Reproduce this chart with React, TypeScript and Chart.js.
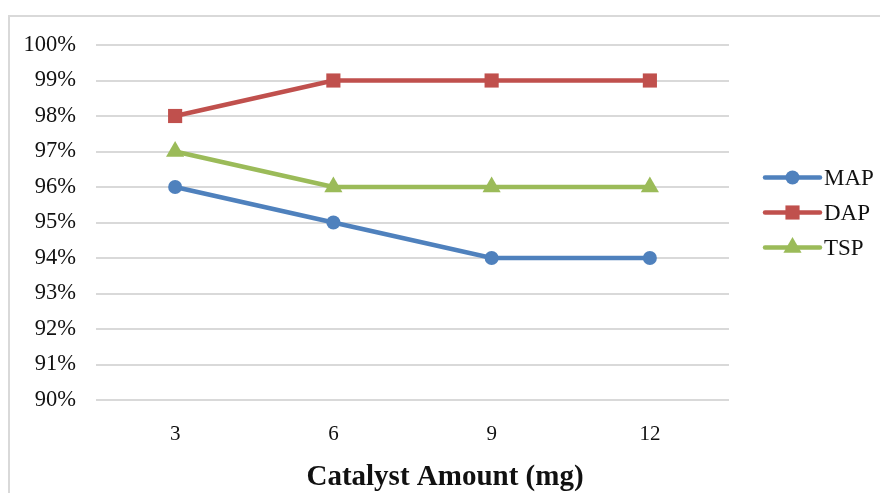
import React, { useEffect, useRef } from "react";
import { Chart, registerables } from "chart.js";

Chart.register(...registerables);

const categories = ["3", "6", "9", "12"];
const mapValues = [96, 95, 94, 94];
const dapValues = [98, 99, 99, 99];
const tspValues = [97, 96, 96, 96];
const seriesNames = ["MAP", "DAP", "TSP"];
const xTitle = "Catalyst Amount (mg)";

const FONT = "'Liberation Serif', 'Times New Roman', serif";

function drawMarker(ctx: CanvasRenderingContext2D, style: string, x: number, y: number, r: number, color: string) {
  ctx.save();
  ctx.fillStyle = color;
  ctx.beginPath();
  if (style === "circle") {
    ctx.arc(x, y, r, 0, Math.PI * 2);
  } else if (style === "rect") {
    const s = Math.SQRT1_2 * r;
    ctx.rect(x - s, y - s, 2 * s, 2 * s);
  } else if (style === "triangle") {
    const sx = r * Math.sin(Math.PI / 3);
    const sy = r * Math.cos(Math.PI / 3);
    ctx.moveTo(x, y - r);
    ctx.lineTo(x + sx, y + sy);
    ctx.lineTo(x - sx, y + sy);
    ctx.closePath();
  }
  ctx.fill();
  ctx.restore();
}

const legendPlugin = {
  id: "lineLegend",
  afterDraw(chart: any) {
    const { ctx, chartArea } = chart;
    const x0 = chartArea.right + 36;
    const x1 = chartArea.right + 91;
    const yc = (chartArea.top + chartArea.bottom) / 2 - 10;
    const gap = 35;
    chart.data.datasets.forEach((ds: any, i: number) => {
      const y = yc + (i - 1) * gap;
      ctx.save();
      ctx.strokeStyle = ds.borderColor;
      ctx.lineWidth = ds.borderWidth;
      ctx.lineCap = "round";
      ctx.beginPath();
      ctx.moveTo(x0, y);
      ctx.lineTo(x1, y);
      ctx.stroke();
      drawMarker(ctx, ds.pointStyle, (x0 + x1) / 2, y, ds.pointRadius, ds.borderColor);
      ctx.fillStyle = "#111";
      ctx.font = `23px ${FONT}`;
      ctx.textBaseline = "middle";
      ctx.textAlign = "left";
      ctx.fillText(ds.label, x1 + 4, y + 1);
      ctx.restore();
    });
    // axis title, centred on the whole chart as in the reference
    ctx.save();
    ctx.fillStyle = "#111";
    ctx.font = `bold 29px ${FONT}`;
    ctx.textAlign = "center";
    ctx.textBaseline = "middle";
    ctx.fillText(xTitle, chart.width / 2 + 5, chart.height - 15);
    ctx.restore();
  },
};

export default function App() {
  const ref = useRef<HTMLCanvasElement | null>(null);

  useEffect(() => {
    if (!ref.current) return;
    const chart = new Chart(ref.current, {
      type: "line",
      data: {
        labels: categories,
        datasets: [
          {
            label: seriesNames[0],
            data: mapValues,
            borderColor: "#4F81BD",
            backgroundColor: "#4F81BD",
            borderWidth: 4.5,
            pointStyle: "circle",
            pointRadius: 7,
            pointBorderWidth: 0,
            tension: 0,
          },
          {
            label: seriesNames[1],
            data: dapValues,
            borderColor: "#C0504D",
            backgroundColor: "#C0504D",
            borderWidth: 4.5,
            pointStyle: "rect",
            pointRadius: 10,
            pointBorderWidth: 0,
            tension: 0,
          },
          {
            label: seriesNames[2],
            data: tspValues,
            borderColor: "#9BBB59",
            backgroundColor: "#9BBB59",
            borderWidth: 4.5,
            pointStyle: "triangle",
            pointRadius: 10.5,
            pointBorderWidth: 0,
            tension: 0,
          },
        ],
      },
      options: {
        animation: false,
        responsive: false,
        layout: { padding: { top: 45, right: 151, bottom: 0, left: 0 } },
        plugins: {
          legend: { display: false },
          tooltip: { enabled: false },
        },
        scales: {
          x: {
            offset: true,
            grid: { display: false, drawTicks: false },
            border: { display: false },
            ticks: {
              color: "#111",
              font: { family: FONT, size: 21 },
              padding: 22,
            },
            afterFit(scale: any) {
              scale.height = 93;
            },
          },
          y: {
            min: 90,
            max: 100,
            ticks: {
              stepSize: 1,
              color: "#111",
              font: { family: FONT, size: 22.5 },
              padding: 20,
              callback: (v: any) => `${v}%`,
            },
            grid: { color: "#d9d9d9", lineWidth: 2, drawTicks: false },
            border: { display: false },
            afterFit(scale: any) {
              scale.width = 96;
            },
          },
        },
      },
      plugins: [legendPlugin],
    });
    return () => chart.destroy();
  }, []);

  return (
    <div style={{ position: "absolute", left: 0, top: 0, width: 880, height: 493, overflow: "hidden", background: "#fff" }}>
      <div
        style={{
          position: "absolute",
          left: 8,
          top: 15,
          width: 1000,
          height: 1000,
          border: "2px solid #d9d9d9",
        }}
      />
      <canvas ref={ref} width={880} height={493} style={{ position: "absolute", left: 0, top: 0, width: 880, height: 493 }} />
    </div>
  );
}
